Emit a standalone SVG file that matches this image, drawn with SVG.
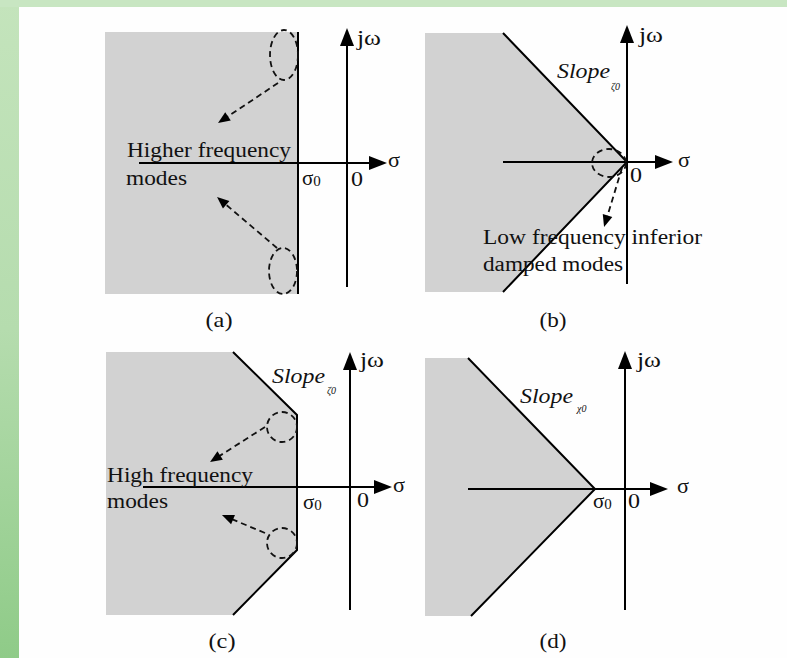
<svg xmlns="http://www.w3.org/2000/svg" width="787" height="658" viewBox="0 0 787 658">
<style>
.region{fill:#d2d2d2;stroke:none}
.edge{fill:none;stroke:#000;stroke-width:2}
.axis{stroke:#000;stroke-width:2;fill:none;marker-end:url(#ah)}
.dash{fill:none;stroke:#111;stroke-width:1.8;stroke-dasharray:6 4}
.darrow{fill:none;stroke:#111;stroke-width:1.8;stroke-dasharray:6 4;marker-end:url(#dh)}
text{font-family:"Liberation Serif","Times New Roman",serif;font-size:20px;fill:#111}
.lbl{font-size:21px}
.it{font-style:italic}
.sub{font-size:10px;font-style:italic}
.cap{font-size:21px;text-anchor:middle}
</style>
<defs>
<linearGradient id="gl" x1="0" y1="0" x2="0" y2="1">
<stop offset="0" stop-color="#c4e4bc"/>
<stop offset="0.5" stop-color="#b5dcae"/>
<stop offset="1" stop-color="#8fcb88"/>
</linearGradient>
<marker id="ah" markerUnits="userSpaceOnUse" markerWidth="20" markerHeight="16" viewBox="0 -8 18 16" refX="9" refY="0" orient="auto">
<path d="M0,-7 L18,0 L0,7 z" fill="#000"/>
</marker>
<marker id="dh" markerUnits="userSpaceOnUse" markerWidth="14" markerHeight="12" viewBox="0 -6 13 12" refX="6" refY="0" orient="auto">
<path d="M0,-5 L12,0 L0,5 z" fill="#000"/>
</marker>
</defs>
<g id="background">
<rect x="0" y="0" width="787" height="658" fill="url(#gl)"/>
<rect x="0" y="0" width="787" height="7" fill="#c8e6c2"/>
<rect x="19" y="7" width="768" height="651" fill="#fefefe"/>
</g>
<g id="panel-a">
<rect class="region" x="105" y="32" width="193" height="262"/>
<line class="edge" x1="298" y1="32" x2="298" y2="294"/>
<line class="axis" x1="347" y1="287" x2="347" y2="37"/>
<line class="axis" x1="139" y1="163" x2="378" y2="163"/>
<ellipse class="dash" cx="284" cy="55" rx="14" ry="25"/>
<ellipse class="dash" cx="283" cy="271" rx="14" ry="23"/>
<text class="lbl" x="357" y="45" textLength="24" lengthAdjust="spacingAndGlyphs">jω</text>
<text class="lbl" x="388" y="167" textLength="12" lengthAdjust="spacingAndGlyphs">σ</text>
<text x="127" y="157" textLength="164" lengthAdjust="spacingAndGlyphs">Higher frequency</text>
<text x="126" y="185" textLength="61" lengthAdjust="spacingAndGlyphs">modes</text>
<text class="lbl" x="302" y="185">σ<tspan font-size="15" dy="1">0</tspan></text>
<text class="lbl" x="351" y="186" textLength="12" lengthAdjust="spacingAndGlyphs">0</text>
<text class="cap" x="219" y="327" textLength="27" lengthAdjust="spacingAndGlyphs">(a)</text>
</g>
<g id="panel-b">
<polygon class="region" points="425,33 503,33 627,162 503,292 425,292"/>
<polyline class="edge" points="503,33 627,162 503,292"/>
<line class="axis" x1="627" y1="284" x2="627" y2="34"/>
<line class="axis" x1="503" y1="162" x2="664" y2="162"/>
<ellipse class="dash" cx="609" cy="163" rx="17" ry="14"/>
<text class="lbl" x="639" y="42" textLength="24" lengthAdjust="spacingAndGlyphs">jω</text>
<text class="lbl" x="678" y="167" textLength="12" lengthAdjust="spacingAndGlyphs">σ</text>
<text class="it" x="557" y="78" textLength="53" lengthAdjust="spacingAndGlyphs">Slope</text>
<text class="sub" x="611" y="90">ζ0</text>
<text class="lbl" x="630" y="182" textLength="12" lengthAdjust="spacingAndGlyphs">0</text>
<text x="483" y="244" textLength="219" lengthAdjust="spacingAndGlyphs">Low frequency inferior</text>
<text x="483" y="271" textLength="140" lengthAdjust="spacingAndGlyphs">damped modes</text>
<text class="cap" x="553" y="327" textLength="27" lengthAdjust="spacingAndGlyphs">(b)</text>
</g>
<g id="panel-c">
<polygon class="region" points="106,352 233,352 297,415 297,550 233,615 106,615"/>
<polyline class="edge" points="233,352 297,415 297,550 233,615"/>
<line class="axis" x1="350" y1="610" x2="350" y2="361"/>
<line class="axis" x1="143" y1="487" x2="383" y2="487"/>
<circle class="dash" cx="282" cy="427" r="15"/>
<circle class="dash" cx="282" cy="543" r="15"/>
<text class="lbl" x="360" y="367" textLength="24" lengthAdjust="spacingAndGlyphs">jω</text>
<text class="lbl" x="393" y="492" textLength="12" lengthAdjust="spacingAndGlyphs">σ</text>
<text class="it" x="272" y="383" textLength="53" lengthAdjust="spacingAndGlyphs">Slope</text>
<text class="sub" x="327" y="394">ζ0</text>
<text x="107" y="482" textLength="146" lengthAdjust="spacingAndGlyphs">High frequency</text>
<text x="107" y="508" textLength="61" lengthAdjust="spacingAndGlyphs">modes</text>
<text class="lbl" x="303" y="509">σ<tspan font-size="15" dy="1">0</tspan></text>
<text class="lbl" x="357" y="507" textLength="12" lengthAdjust="spacingAndGlyphs">0</text>
<text class="cap" x="222" y="648" textLength="27" lengthAdjust="spacingAndGlyphs">(c)</text>
</g>
<g id="panel-d">
<polygon class="region" points="425,358 468,358 595,489 471,616 425,616"/>
<polyline class="edge" points="468,358 595,489 471,616"/>
<line class="axis" x1="625" y1="610" x2="625" y2="360"/>
<line class="axis" x1="468" y1="489" x2="659" y2="489"/>
<text class="lbl" x="637" y="367" textLength="24" lengthAdjust="spacingAndGlyphs">jω</text>
<text class="lbl" x="677" y="493" textLength="12" lengthAdjust="spacingAndGlyphs">σ</text>
<text class="it" x="520" y="403" textLength="53" lengthAdjust="spacingAndGlyphs">Slope</text>
<text class="sub" x="577" y="412">χ0</text>
<text class="lbl" x="593" y="508">σ<tspan font-size="15" dy="1">0</tspan></text>
<text class="lbl" x="628" y="508" textLength="12" lengthAdjust="spacingAndGlyphs">0</text>
<text class="cap" x="553" y="648" textLength="27" lengthAdjust="spacingAndGlyphs">(d)</text>
</g>
<g id="connectors">
<line class="darrow" x1="278" y1="83" x2="223" y2="119.7"/>
<line class="darrow" x1="277" y1="248" x2="221.6" y2="200.9"/>
<line class="darrow" x1="622" y1="168" x2="605.8" y2="221.3"/>
<line class="darrow" x1="265" y1="427" x2="215.1" y2="458.8"/>
<line class="darrow" x1="265" y1="533" x2="227.5" y2="517.3"/>
</g>
</svg>
